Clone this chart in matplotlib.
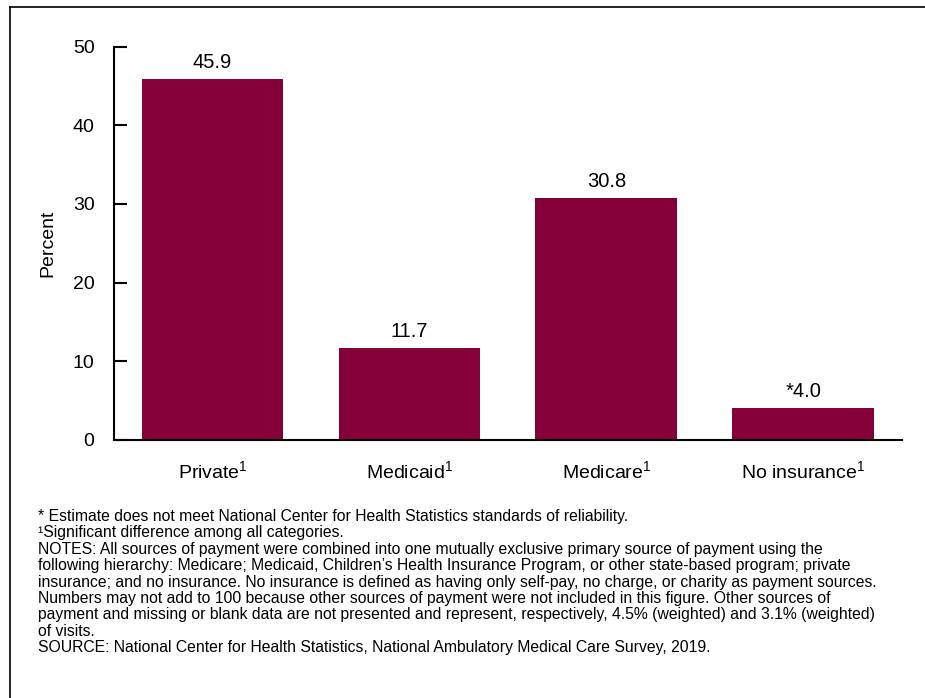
import matplotlib
matplotlib.use('Agg')
import matplotlib.pyplot as plt
from matplotlib.lines import Line2D

plt.rcParams['font.family'] = ['Liberation Sans', 'DejaVu Sans']
plt.rcParams['mathtext.fontset'] = 'custom'
plt.rcParams['mathtext.rm'] = 'Liberation Sans'
plt.rcParams['mathtext.it'] = 'Liberation Sans'
plt.rcParams['mathtext.default'] = 'regular'

# data
categories = ['Private$^{1}$', 'Medicaid$^{1}$', 'Medicare$^{1}$', 'No insurance$^{1}$']
values = [45.9, 11.7, 30.8, 4.0]
value_labels = ['45.9', '11.7', '30.8', '*4.0']
yticks = [0, 10, 20, 30, 40, 50]

notes = [
    '* Estimate does not meet National Center for Health Statistics standards of reliability.',
    '\u00b9Significant difference among all categories.',
    'NOTES: All sources of payment were combined into one mutually exclusive primary source of payment using the',
    'following hierarchy: Medicare; Medicaid, Children\u2019s Health Insurance Program, or other state-based program; private',
    'insurance; and no insurance. No insurance is defined as having only self-pay, no charge, or charity as payment sources.',
    'Numbers may not add to 100 because other sources of payment were not included in this figure. Other sources of',
    'payment and missing or blank data are not presented and represent, respectively, 4.5% (weighted) and 3.1% (weighted)',
    'of visits.',
    'SOURCE: National Center for Health Statistics, National Ambulatory Medical Care Survey, 2019.',
]

bar_color = '#850038'

fig = plt.figure(figsize=(9.25, 6.98), dpi=100)
ax = fig.add_axes([0.1232, 0.3703, 0.8518, 0.5624])

x = range(len(categories))
bars = ax.bar(x, values, width=0.72, color=bar_color)
for b, lab in zip(bars, value_labels):
    ax.annotate(lab, (b.get_x() + b.get_width() / 2, b.get_height()),
                xytext=(0, 5), textcoords='offset points',
                ha='center', va='bottom', fontsize=14.5)

ax.set_xlim(-0.5, 3.5)
ax.set_ylim(0, 50)
ax.set_yticks(yticks)
ax.set_xticks(list(x))
ax.set_xticklabels(categories)
ax.tick_params(axis='y', direction='in', length=9.5, width=1.5, labelsize=14, pad=14)
ax.tick_params(axis='x', length=0, labelsize=14, pad=15)
ax.set_ylabel('Percent', fontsize=14, labelpad=12)

for s in ['top', 'right']:
    ax.spines[s].set_visible(False)
ax.spines['left'].set_linewidth(1.5)
ax.spines['bottom'].set_linewidth(1.5)

# footnotes, one line at a time so the pitch stays even
for i, line in enumerate(notes):
    fig.text(38 / 925, 1 - (521 + i * 16.4) / 698, line, ha='left', va='baseline',
             fontsize=11.3)

# frame lines at top and left of the figure
fig.add_artist(Line2D([10 / 925, 1], [1 - 7 / 698, 1 - 7 / 698], color='black', lw=1.2,
                      transform=fig.transFigure))
fig.add_artist(Line2D([10 / 925, 10 / 925], [0, 1 - 7 / 698], color='black', lw=1.2,
                      transform=fig.transFigure))

fig.savefig('out.png', dpi=100)
